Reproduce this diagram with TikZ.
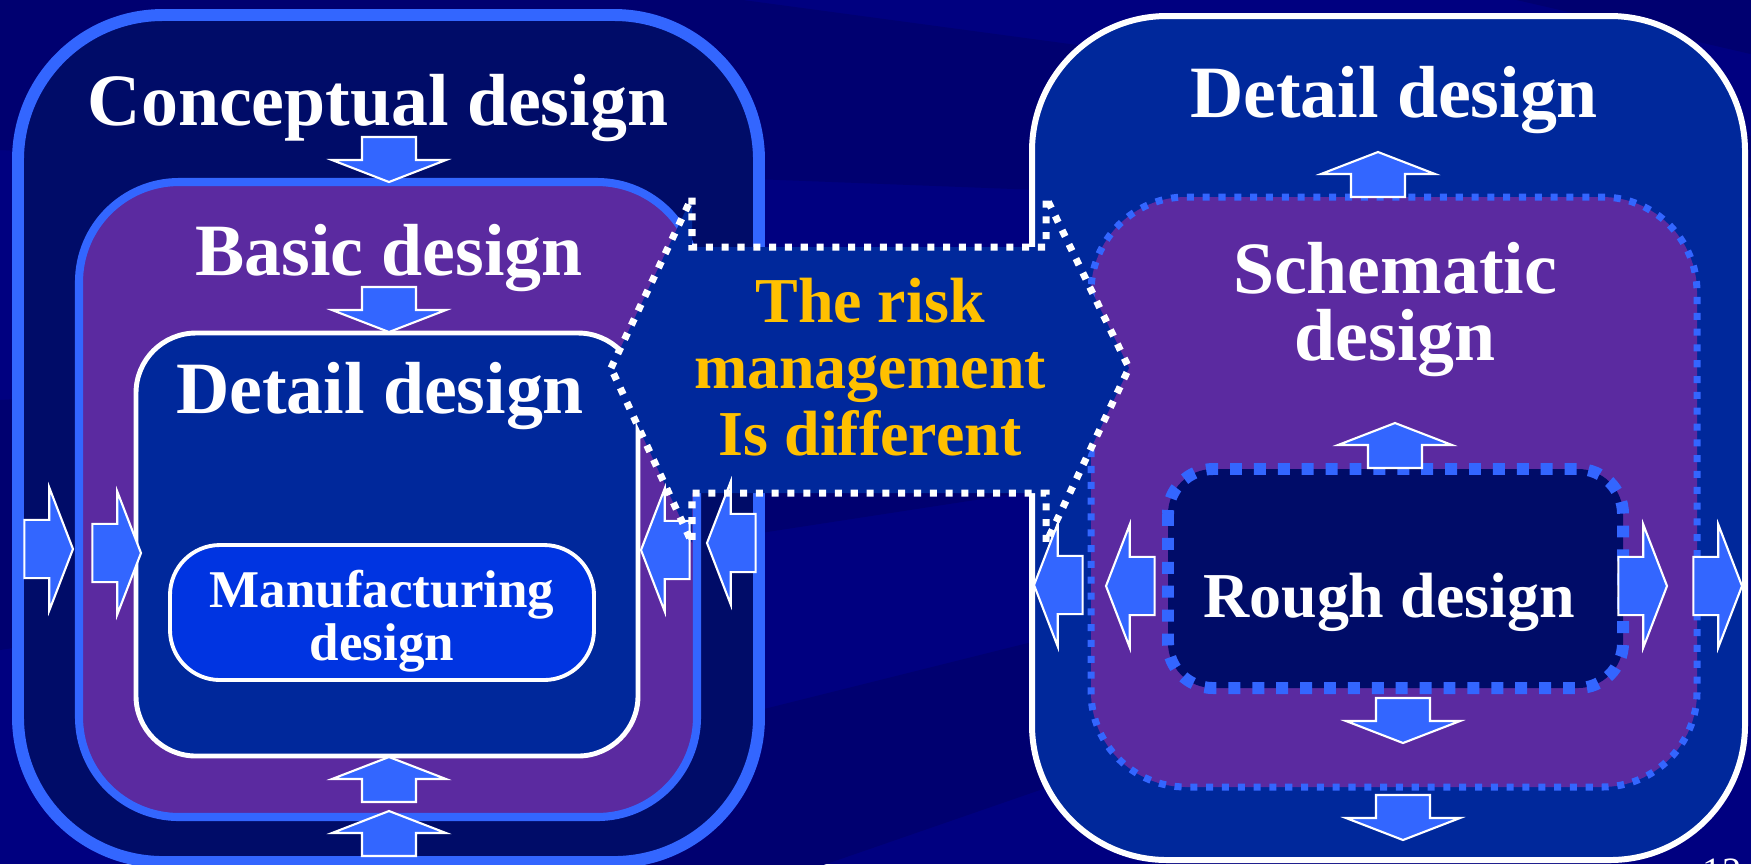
\documentclass[tikz,border=0pt]{standalone}
\usepackage{fontspec}
\setmainfont{Liberation Serif}

\definecolor{bgnavy}{RGB}{0,0,128}
\definecolor{bgshade}{RGB}{0,0,112}
\definecolor{navydark}{RGB}{0,12,104}
\definecolor{skyblue}{RGB}{51,102,255}
\definecolor{violet}{RGB}{91,42,160}
\definecolor{royal}{RGB}{0,40,155}
\definecolor{brightblue}{RGB}{0,52,225}
\definecolor{gold}{RGB}{255,192,0}

\tikzset{
  bigtext/.style={text=white, inner sep=0pt, align=center,
    font=\fontsize{21}{19}\selectfont\bfseries},
  midtext/.style={text=white, inner sep=0pt, align=center,
    font=\fontsize{18.2}{18.8}\selectfont\bfseries},
  smalltext/.style={text=white, inner sep=0pt, align=center,
    font=\fontsize{15.1}{13}\selectfont\bfseries},
  arrowfill/.style={fill=skyblue, draw=white, line width=0.6pt, line join=miter},
  % block arrow, tip at the origin, pointing left
  blockarrow/.pic={
    \path[arrowfill] (0,0) -- (22,57) -- (22,27) -- (45,27)
      -- (45,-27) -- (22,-27) -- (22,-57) -- cycle;
  }
}

\begin{document}
\begin{tikzpicture}[x=0.1mm, y=-0.1mm]
  % Background
  \useasboundingbox (0,0) rectangle (1751,864);
  \fill[bgnavy] (0,0) rectangle (1751,864);
  \foreach \a/\b in {-600/-350, -100/150, 400/650, 900/1150}
    \fill[bgshade] (2600,250) -- (0,\a) -- (0,\b) -- cycle;

  % Left stack
  \draw[skyblue, line width=3.4pt, fill=navydark, rounded corners=14.5mm] (18,15) rectangle (759,862);
  \draw[skyblue, line width=2.3pt, fill=violet, rounded corners=10mm] (79,182) rectangle (697,817);
  \draw[white, line width=1.4pt, fill=royal, rounded corners=6mm] (136,333) rectangle (638,756);
  \draw[white, line width=1.1pt, fill=brightblue, rounded corners=5mm] (170,545) rectangle (594,680);

  % Right stack
  \draw[white, line width=1.7pt, fill=royal, rounded corners=13.5mm] (1032,16) rectangle (1745,860);
  \draw[skyblue, line width=2pt, dash pattern=on 2pt off 2.5pt, fill=violet, rounded corners=9.5mm] (1091,197) rectangle (1697,787);
  \draw[skyblue, line width=3.4pt, dash pattern=on 3.4pt off 3.4pt, fill=navydark, rounded corners=4.5mm] (1168,469) rectangle (1623,688);

  % Callout in the middle
  \fill[royal] (611,368) -- (692,197) -- (692,247) -- (1046,247) -- (1046,197) -- (1129,368)
    -- (1046,543) -- (1046,493) -- (692,493) -- (692,543) -- cycle;

  % Arrows, left stack
  \pic[rotate=90] at (389,182) {blockarrow};
  \pic[rotate=90] at (389,332) {blockarrow};
  \pic[rotate=-90] at (389,757) {blockarrow};
  \pic[rotate=-90] at (389,811) {blockarrow};
  \pic[rotate=180, scale=1.08] at (73,549) {blockarrow};
  \pic[rotate=180, scale=1.08] at (141,553) {blockarrow};
  \pic[scale=1.08] at (641,550) {blockarrow};
  \pic[scale=1.08] at (707,543) {blockarrow};

  % Arrows, right stack
  \pic[rotate=-90] at (1378,152) {blockarrow};
  \pic[rotate=-90] at (1395,423) {blockarrow};
  \pic[rotate=90] at (1403,743) {blockarrow};
  \pic[rotate=90] at (1403,840) {blockarrow};
  \pic[scale=1.08] at (1034,585) {blockarrow};
  \pic[scale=1.08] at (1106,586) {blockarrow};
  \pic[rotate=180, scale=1.08] at (1667,586) {blockarrow};
  \pic[rotate=180, scale=1.08] at (1742,586) {blockarrow};

  \draw[white, line width=2pt, dash pattern=on 2pt off 2.5pt] (611,368) -- (692,197) -- (692,247) -- (1046,247) -- (1046,197) -- (1129,368)
    -- (1046,543) -- (1046,493) -- (692,493) -- (692,543) -- cycle;

  % Labels (base = baseline of the last line)
  \node[bigtext, anchor=base] (concept) at (378,125) {Conceptual design};
  \node[bigtext, anchor=base] (basic) at (389,275) {Basic design};
  \node[bigtext, anchor=base] (detailL) at (380,413) {Detail design};
  \node[smalltext, anchor=base] (manuf) at (382,660) {Manufacturing\\design};
  \node[bigtext, anchor=base] (detailR) at (1394,117) {Detail design};
  \node[bigtext, anchor=base] (schem) at (1395,360) {Schematic\\design};
  \node[midtext, anchor=base] (rough) at (1389,617) {Rough design};
  \node[midtext, anchor=base, text=gold] (risk) at (870,455) {The risk\\management\\Is different};
  \node[text=white, anchor=base, font=\fontsize{11}{12}\selectfont] (page) at (1722,884) {12};
\end{tikzpicture}
\end{document}
